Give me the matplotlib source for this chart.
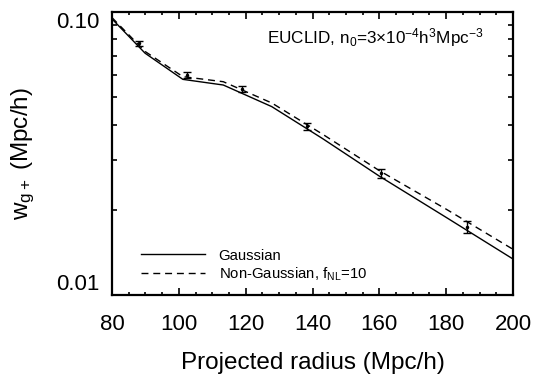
import matplotlib
matplotlib.use("Agg")
import matplotlib.pyplot as plt
from matplotlib.ticker import MultipleLocator, LogLocator, FixedFormatter, FixedLocator, NullFormatter

plt.rcParams['font.family'] = ['Liberation Sans', 'DejaVu Sans']
plt.rcParams['mathtext.fontset'] = 'custom'
plt.rcParams['mathtext.rm'] = 'Liberation Sans'
plt.rcParams['mathtext.it'] = 'Liberation Sans'

# model curves (piecewise, log-spaced bins)
r_model = [80, 89.9, 101.2, 113.3, 127.8, 143.0, 160.0, 180.0, 200.0]
w_gauss = [0.0945, 0.0715, 0.0578, 0.0552, 0.0463, 0.0357, 0.0263, 0.0188, 0.0134]
w_nongauss = [0.0955, 0.0725, 0.0591, 0.0567, 0.0477, 0.0370, 0.0275, 0.0201, 0.0145]

# measurements with error bars
r_data = [88.2, 102.3, 118.8, 138.3, 160.4, 186.3]
w_data = [0.0775, 0.0599, 0.0533, 0.0395, 0.0269, 0.0174]
w_err = [0.0016, 0.0016, 0.0013, 0.0011, 0.0010, 0.00085]

fig = plt.figure(figsize=(5.43, 3.78), dpi=100)
ax = fig.add_axes([0.2063, 0.2196, 0.7385, 0.7487])

ax.plot(r_model, w_gauss, color='black', lw=1.0, label='Gaussian')
ax.plot(r_model, w_nongauss, color='black', lw=1.0, ls=(0, (5, 3.5)),
        label='Non-Gaussian, f$_{\\rm NL}$=10')
ax.errorbar(r_data, w_data, yerr=w_err, fmt='.', color='black', ms=3,
            elinewidth=1.0, capsize=3, capthick=1.0)

ax.set_yscale('log')
ax.set_xlim(80, 200)
ax.set_ylim(0.01, 0.1)

ax.xaxis.set_major_locator(MultipleLocator(20))
ax.xaxis.set_minor_locator(MultipleLocator(5))
ax.yaxis.set_major_locator(FixedLocator([0.01, 0.1]))
ax.yaxis.set_major_formatter(FixedFormatter(['0.01', '0.10']))
ax.yaxis.set_minor_locator(LogLocator(base=10, subs=range(2, 10)))
ax.yaxis.set_minor_formatter(NullFormatter())

ax.tick_params(which='both', direction='in', top=True, right=True, width=1.2,
               labelsize=16, colors='black')
ax.tick_params(axis='x', which='major', length=5, pad=14)
ax.tick_params(axis='x', which='minor', length=2.5)
ax.tick_params(axis='y', which='major', length=5, pad=9)
ax.tick_params(axis='y', which='minor', length=3.5)
for s in ax.spines.values():
    s.set_linewidth(1.6)

fig.canvas.draw()
ylabs = ax.get_yticklabels()
ylabs[0].set_va('bottom')
ylabs[1].set_va('top')

ax.set_xlabel('Projected radius (Mpc/h)', fontsize=17.5, labelpad=12)
ax.set_ylabel('w$_{\\rm g+}$ (Mpc/h)', fontsize=17.5, labelpad=14)

ax.text(0.656, 0.908, 'EUCLID, n$_0$=3$\\times$10$^{-4}$h$^3$Mpc$^{-3}$',
        transform=ax.transAxes, ha='center', va='center', fontsize=12.3)

leg = ax.legend(loc='lower left', bbox_to_anchor=(0.04, -0.005), frameon=False,
                fontsize=10.7, handlelength=4.3, handletextpad=0.9,
                labelspacing=0.2)

fig.savefig('out.png', dpi=100)
